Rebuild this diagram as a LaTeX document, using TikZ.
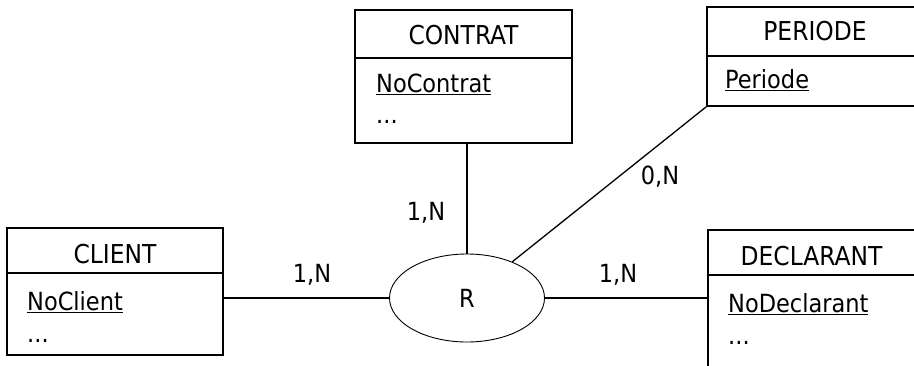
\documentclass[tikz,border=0pt]{standalone}
\usepackage{fontspec}
\setmainfont{DejaVu Sans Condensed}
\usetikzlibrary{shapes.geometric}
\tikzset{
  ent/.style={draw, line width=1.6pt, rectangle, inner sep=0pt},
  div/.style={line width=1.6pt},
  txt/.style={inner sep=0pt, font=\fontsize{25}{30}\selectfont},
  ttl/.style={inner sep=0pt, font=\fontsize{26}{30}\selectfont},
  rel/.style={draw, ellipse, line width=0.9pt, inner sep=0pt, minimum width=155pt, minimum height=88pt, font=\fontsize{25}{30}\selectfont},
  conn/.style={line width=1.3pt},
}
\begin{document}
\begin{tikzpicture}[x=1pt,y=-1pt]
\useasboundingbox (0,0) rectangle (914,365);
\clip (0,0) rectangle (914,365);
% entity boxes
\node[ent, minimum width=217pt, minimum height=133pt] (ct) at (463.5,76.5) {};
\node[ent, minimum width=216pt, minimum height=99pt] (pe) at (815,56.5) {};
\node[ent, minimum width=216pt, minimum height=127pt] (cl) at (115,291.5) {};
\node[ent, minimum width=209pt, minimum height=150pt] (de) at (812.5,305) {};
% dividers
\draw[div] (ct.west |- 0,58) -- (ct.east |- 0,58);
\draw[div] (pe.west |- 0,56) -- (pe.east |- 0,56);
\draw[div] (cl.west |- 0,273) -- (cl.east |- 0,273);
\draw[div] (de.west |- 0,275) -- (de.east |- 0,275);
% titles
\node[ttl, anchor=base] (ctt) at (463.5,44) {CONTRAT};
\node[ttl, anchor=base] (pet) at (815,40) {PERIODE};
\node[ttl, anchor=base] (clt) at (115,263) {CLIENT};
\node[ttl, anchor=base] (det) at (811.5,265) {DECLARANT};
% attributes
\node[txt, anchor=base west] (cta) at (376,92) {\underline{NoContrat}};
\node[txt, anchor=base west] (ctb) at (376,123) {...};
\node[txt, anchor=base west] (pea) at (725,88) {\underline{Periode}};
\node[txt, anchor=base west] (cla) at (27,310) {\underline{NoClient}};
\node[txt, anchor=base west] (clb) at (27,342) {...};
\node[txt, anchor=base west] (dea) at (728,312) {\underline{NoDeclarant}};
\node[txt, anchor=base west] (deb) at (728,344) {...};
% relation
\node[rel] (R) at (467,298) {R};
% connectors
\draw[conn] (R.north) -- (R.north |- ct.south);
\draw[conn] (pe.south west) -- (R);
\draw[conn] (R.west) -- (R.west -| cl.east);
\draw[conn] (R.east) -- (R.east -| de.west);
% cardinalities
\node[txt] (c1) at (426,213) {1,N};
\node[txt] (c2) at (660,177) {0,N};
\node[txt] (c3) at (312,275) {1,N};
\node[txt] (c4) at (618,275) {1,N};
\end{tikzpicture}
\end{document}
